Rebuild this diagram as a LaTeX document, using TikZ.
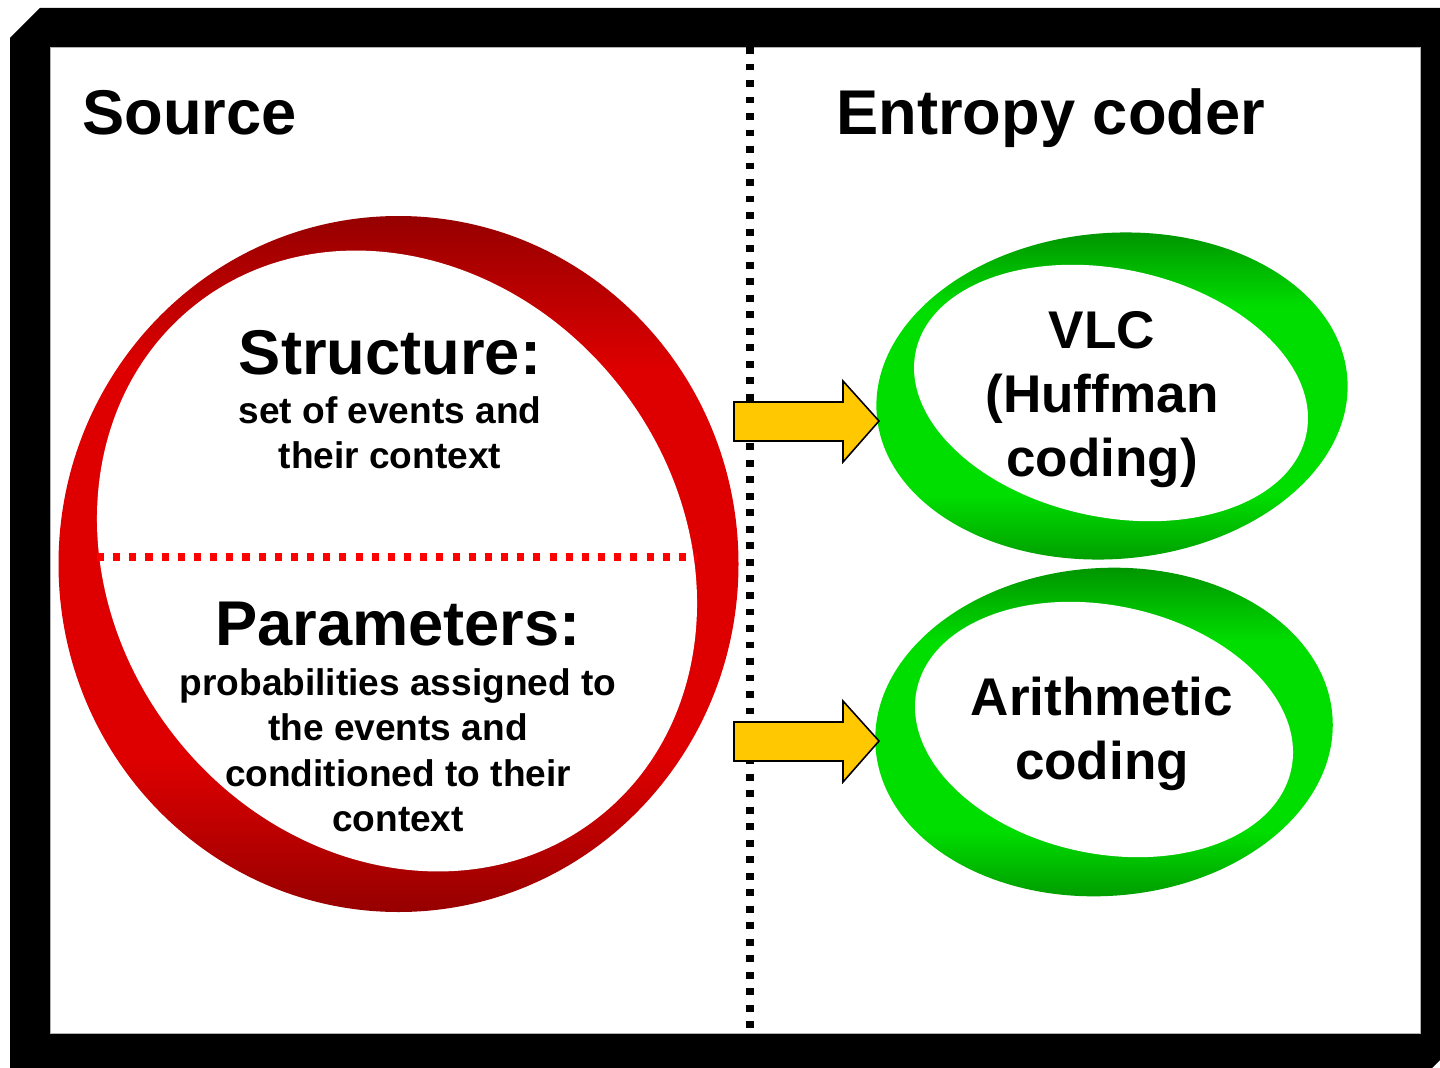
\documentclass[tikz,border=0pt]{standalone}
\usepackage{fontspec}
\setmainfont{Liberation Sans}
\definecolor{rdark}{RGB}{150,0,0}
\definecolor{rbright}{RGB}{222,0,0}
\definecolor{gdark}{RGB}{0,150,0}
\definecolor{gbright}{RGB}{0,222,0}
\definecolor{arrowgold}{RGB}{255,200,0}
% ribbon shadings: dark at top and bottom, bright on the sides
\pgfdeclareverticalshading{ringred}{100bp}{color(0bp)=(rdark); color(25bp)=(rdark); color(36bp)=(rbright); color(64bp)=(rbright); color(75bp)=(rdark); color(100bp)=(rdark)}
\pgfdeclareverticalshading{ringgreen}{100bp}{color(0bp)=(gdark); color(25bp)=(gdark); color(36bp)=(gbright); color(64bp)=(gbright); color(75bp)=(gdark); color(100bp)=(gdark)}
\begin{document}
\begin{tikzpicture}[x=0.02cm, y=-0.02cm,
  title/.style={font=\bfseries\fontsize{36}{40}\selectfont, inner sep=0pt},
  head/.style={font=\bfseries\fontsize{36}{40}\selectfont, inner sep=0pt, anchor=base},
  small/.style={font=\bfseries\fontsize{21.1}{25}\selectfont, inner sep=0pt, anchor=base},
  coder/.style={font=\bfseries\fontsize{30.2}{36}\selectfont, inner sep=0pt, anchor=base},
  blockarrow/.style={fill=arrowgold, draw=black, line width=0.9pt, line join=miter},
  divider/.style={draw=black, line width=4.2pt, dash pattern=on 3.9pt off 5.5pt},
  split/.style={draw=red, line width=4.6pt, dash pattern=on 4pt off 5.2pt},
  inside/.style={fill=white}]
\useasboundingbox (0,0) rectangle (1440,1068);
\clip (0,0) rectangle (1440,1068);

% frame with bevelled corners
\fill[black] (10,38) -- (40,8) -- (1470,8) -- (1470,1030) -- (1420,1080) -- (10,1080) -- cycle;
\fill[white, draw=gray!60, line width=0.5pt] (50,47) rectangle (1420,1033);

% column divider
\draw[divider] (750,47) -- (750,1033);

% source ring: outer rim, then the tilted opening
\shade[shading=ringred] (398.5,564) ellipse [x radius=340, y radius=348];
\fill[inside, rotate around={-52:(397,561)}] (397,561) ellipse [x radius=326, y radius=283];
\draw[split] (97,557) -- (697,557);

% coder rings
\shade[shading=ringgreen, rotate around={4.5:(1112,396)}] (1112,396) ellipse [x radius=236, y radius=163];
\fill[inside, rotate around={-12:(1111,393)}] (1111,393) ellipse [x radius=199.6, y radius=124];
\shade[shading=ringgreen, rotate around={3.7:(1104,732)}] (1104,732) ellipse [x radius=229, y radius=164];
\fill[inside, rotate around={-12:(1104,729.5)}] (1104,729.5) ellipse [x radius=191.4, y radius=124];

% block arrows
\draw[blockarrow] (734,402) -- (843,402) -- (843,381) -- (879,421) -- (843,462) -- (843,441) -- (734,441) -- cycle;
\draw[blockarrow] (734,722) -- (843,722) -- (843,701) -- (879,741) -- (843,782) -- (843,761) -- (734,761) -- cycle;

% headings
\node[title, anchor=base west] (source) at (82,134) {Source};
\node[title, anchor=base west] (coder) at (836,134) {Entropy coder};

% source text
\node[head] (struct) at (390,374) {Structure:};
\node[small] (struct1) at (390,423) {set of events and};
\node[small] (struct2) at (390,468) {their context};
\node[head] (param) at (398,645) {Parameters:};
\node[small] (param1) at (398,695) {probabilities assigned to};
\node[small] (param2) at (398,740.5) {the events and};
\node[small] (param3) at (398,786) {conditioned to their};
\node[small] (param4) at (398,831) {context};

% coder text
\node[coder] (vlc1) at (1102,348) {VLC};
\node[coder] (vlc2) at (1102,412) {(Huffman};
\node[coder] (vlc3) at (1102,476) {coding)};
\node[coder] (ari1) at (1102,715) {Arithmetic};
\node[coder] (ari2) at (1102,779) {coding};
\end{tikzpicture}
\end{document}
